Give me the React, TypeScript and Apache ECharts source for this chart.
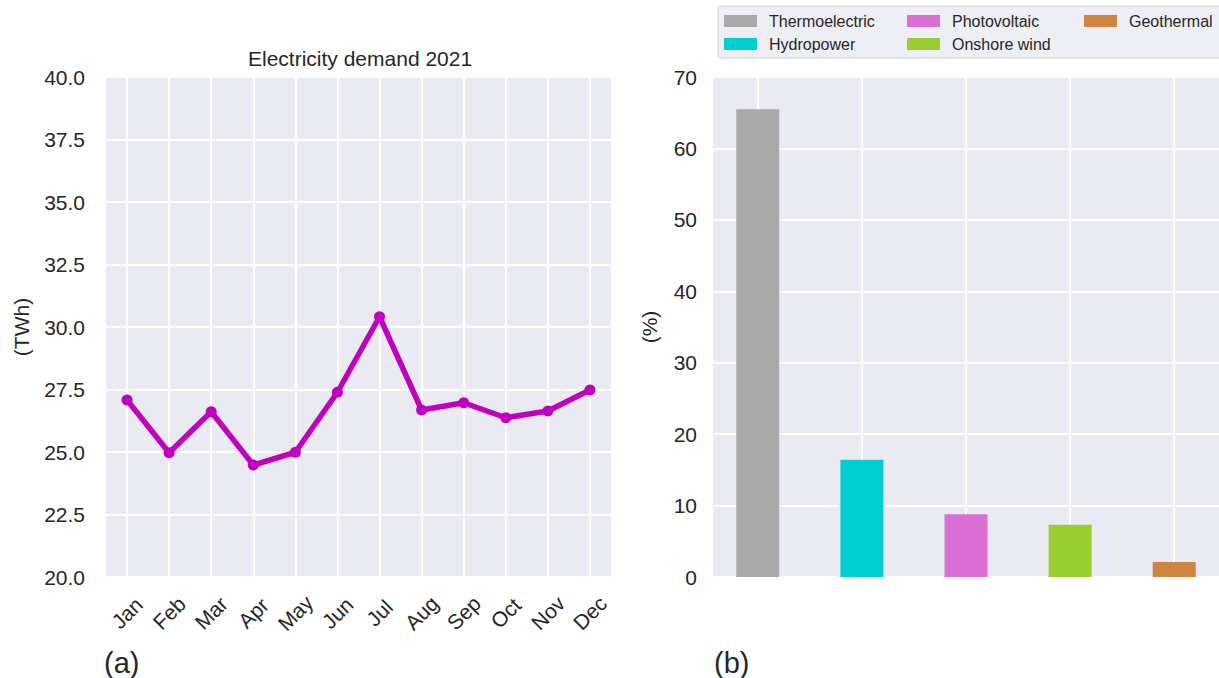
import React, { useEffect, useRef } from "react";
import * as echarts from "echarts";

const months = ["Jan", "Feb", "Mar", "Apr", "May", "Jun", "Jul", "Aug", "Sep", "Oct", "Nov", "Dec"];
const demand = [27.08, 24.97, 26.61, 24.48, 24.99, 27.39, 30.41, 26.68, 26.97, 26.37, 26.64, 27.48];

const sources = ["Thermoelectric", "Hydropower", "Photovoltaic", "Onshore wind", "Geothermal"];
const shares = [65.5, 16.4, 8.8, 7.3, 2.1];
const sourceColors = ["#A9A9A9", "#00CED1", "#DA70D6", "#9ACD32", "#CD853F"];
const sourcePositions = [0, 1, 2, 3, 4];

const FONT = "Liberation Sans, Arial, Helvetica, sans-serif";
const TXT = "#262626";
const FS = 21;

export default function App() {
  const ref = useRef<HTMLDivElement>(null);
  useEffect(() => {
    document.body.style.margin = "0";
    const chart = echarts.init(ref.current!, undefined, { renderer: "svg" });
    const barSeries = sources.map((name, i) => ({
      type: "bar",
      name,
      xAxisIndex: 1,
      yAxisIndex: 1,
      barWidth: 43,
      barGap: "-100%",
      z: 3,
      itemStyle: { color: sourceColors[i] },
      data: [[sourcePositions[i], shares[i]]],
      markLine:
        i === 0
          ? {
              silent: true,
              symbol: "none",
              z: 1,
              label: { show: false },
              lineStyle: { color: "#ffffff", width: 2, type: "solid" },
              data: sourcePositions.map((p) => ({ xAxis: p })),
            }
          : undefined,
    }));
    const legendBase = {
      orient: "vertical",
      top: 8,
      itemWidth: 33,
      itemHeight: 12,
      itemGap: 7,
      icon: "rect",
      textStyle: { fontSize: 16, color: TXT, fontFamily: FONT, padding: [0, 0, 0, 7] },
    };
    chart.setOption({
      animation: false,
      textStyle: { fontFamily: FONT },
      title: [
        { text: "Electricity demand 2021", left: 243, top: 43, textStyle: { fontSize: FS, fontWeight: "normal", color: TXT, fontFamily: FONT } },
        { text: "(a)", left: 99, top: 643, textStyle: { fontSize: 29, fontWeight: "normal", color: TXT, fontFamily: FONT } },
        { text: "(b)", left: 709, top: 643, textStyle: { fontSize: 29, fontWeight: "normal", color: TXT, fontFamily: FONT } },
      ],
      graphic: [
        {
          type: "rect",
          shape: { x: 718, y: 6, width: 520, height: 52, r: 3 },
          style: { fill: "rgba(234,234,242,0.8)", stroke: "#d4d4dc", lineWidth: 1 },
          z: 0,
        },
      ],
      legend: [
        { ...legendBase, data: ["Thermoelectric", "Hydropower"], left: 719 },
        { ...legendBase, data: ["Photovoltaic", "Onshore wind"], left: 902 },
        { ...legendBase, data: ["Geothermal"], left: 1079 },
      ],
      grid: [
        { left: 106, top: 77, width: 505, height: 500, show: true, backgroundColor: "#EAEAF2", borderWidth: 0 },
        { left: 713, top: 77, width: 510, height: 500, show: true, backgroundColor: "#EAEAF2", borderWidth: 0 },
      ],
      xAxis: [
        {
          type: "category",
          gridIndex: 0,
          data: months,
          boundaryGap: true,
          axisLine: { show: false },
          axisTick: { show: false },
          splitLine: { show: false },
          axisLabel: {
            rotate: 45,
            align: "center",
            verticalAlign: "middle",
            margin: 36,
            fontSize: FS,
            color: TXT,
            fontFamily: FONT,
            interval: 0,
          },
        },
        {
          type: "value",
          gridIndex: 1,
          min: -0.43,
          max: 4.43,
          axisLine: { show: false },
          axisTick: { show: false },
          splitLine: { show: false },
          axisLabel: { show: false },
        },
      ],
      yAxis: [
        {
          type: "value",
          gridIndex: 0,
          min: 20,
          max: 40,
          interval: 2.5,
          name: "(TWh)",
          nameLocation: "middle",
          nameGap: 74,
          nameTextStyle: { fontSize: FS, color: TXT, fontFamily: FONT },
          axisLine: { show: false },
          axisTick: { show: false },
          splitLine: { show: true, lineStyle: { color: "#ffffff", width: 2 } },
          axisLabel: { fontSize: FS, color: TXT, fontFamily: FONT, margin: 21, formatter: (v: number) => v.toFixed(1) },
        },
        {
          type: "value",
          gridIndex: 1,
          min: 0,
          max: 70,
          interval: 10,
          name: "(%)",
          nameLocation: "middle",
          nameGap: 53,
          nameTextStyle: { fontSize: FS, color: TXT, fontFamily: FONT },
          axisLine: { show: false },
          axisTick: { show: false },
          splitLine: { show: true, lineStyle: { color: "#ffffff", width: 2 } },
          axisLabel: { fontSize: FS, color: TXT, fontFamily: FONT, margin: 16 },
        },
      ],
      series: [
        {
          type: "line",
          name: "demand",
          xAxisIndex: 0,
          yAxisIndex: 0,
          data: demand,
          z: 3,
          symbol: "circle",
          symbolSize: 11,
          lineStyle: { color: "#BF00BF", width: 5.5 },
          itemStyle: { color: "#BF00BF" },
          markLine: {
            silent: true,
            symbol: "none",
            z: 1,
            label: { show: false },
            lineStyle: { color: "#ffffff", width: 2, type: "solid" },
            data: months.map((m) => ({ xAxis: m })),
          },
        },
        ...barSeries,
      ],
    });
    return () => chart.dispose();
  }, []);
  return <div ref={ref} style={{ width: 1219, height: 678 }} />;
}
